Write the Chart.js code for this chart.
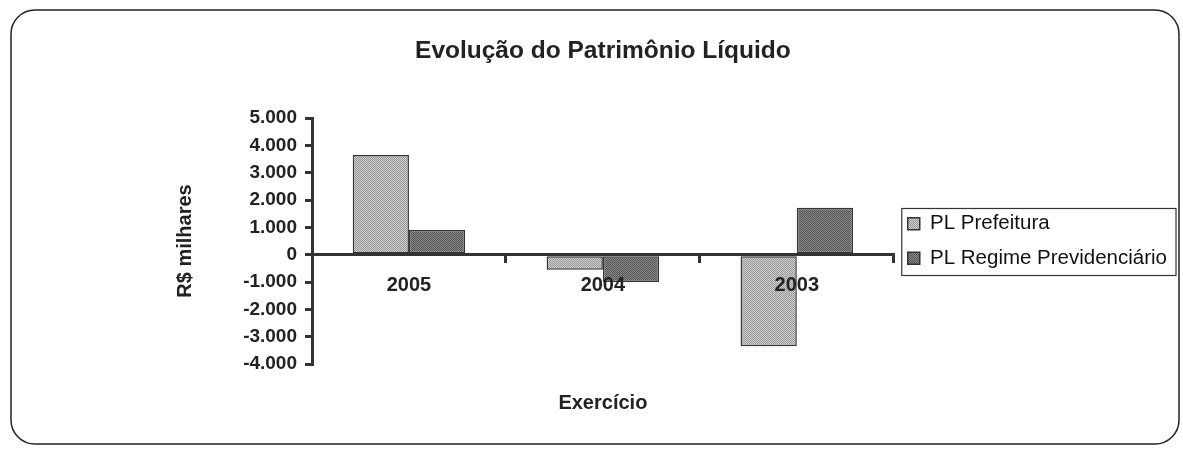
<!DOCTYPE html>
<html><head><meta charset="utf-8">
<script src="https://cdn.jsdelivr.net/npm/chart.js@4.4.0/dist/chart.umd.min.js"></script>
<style>html,body{margin:0;padding:0;background:#fff;}</style>
</head><body>
<canvas id="c" width="1183" height="450"></canvas>
<script>
const categories = ['2005', '2004', '2003'];
const plPrefeitura = [3650, -550, -3350];
const plRegime = [900, -1000, 1720];
const seriesNames = ['PL Prefeitura', 'PL Regime Previdenciário'];
const chartTitle = 'Evolução do Patrimônio Líquido';
const xTitle = 'Exercício';
const yTitle = 'R$ milhares';
const yMin = -4000, yMax = 5000, yStep = 1000;

const FONT = '"Liberation Sans", Arial, sans-serif';

function makePattern(c1, c2) {
  const p = document.createElement('canvas');
  p.width = 2; p.height = 2;
  const g = p.getContext('2d');
  g.fillStyle = c1; g.fillRect(0, 0, 2, 2);
  g.fillStyle = c2; g.fillRect(0, 0, 1, 1); g.fillRect(1, 1, 1, 1);
  return document.getElementById('c').getContext('2d').createPattern(p, 'repeat');
}
const patLight = makePattern('#cfcfcf', '#969696');
const patDark = makePattern('#888888', '#545454');

function fmt(v) {
  const neg = v < 0;
  let s = String(Math.abs(Math.round(v)));
  s = s.replace(/\B(?=(\d{3})+(?!\d))/g, '.');
  return (neg ? '-' : '') + s;
}

const framePlugin = {
  id: 'frame',
  beforeDraw(chart) {
    const ctx = chart.ctx;
    ctx.save();
    ctx.fillStyle = '#fff';
    ctx.fillRect(0, 0, chart.width, chart.height);
    ctx.beginPath();
    ctx.roundRect(11, 10, 1168, 434, 24);
    ctx.lineWidth = 1.5;
    ctx.strokeStyle = '#222';
    ctx.stroke();
    ctx.restore();
  }
};

const textPlugin = {
  id: 'texts',
  afterDraw(chart) {
    const ctx = chart.ctx, ca = chart.chartArea;
    const cx = (ca.left + ca.right) / 2;
    ctx.save();
    ctx.fillStyle = '#222';
    ctx.textAlign = 'center';
    ctx.textBaseline = 'middle';
    ctx.font = 'bold 24.5px ' + FONT;
    ctx.fillText(chartTitle, cx, 51);
    ctx.font = 'bold 20px ' + FONT;
    ctx.fillText(xTitle, cx, 403);
    ctx.restore();
  }
};

const legendBoxPlugin = {
  id: 'legendBox',
  afterDraw(chart) {
    const lg = chart.legend;
    if (!lg || !lg.legendHitBoxes || !lg.legendHitBoxes.length) return;
    const hb = lg.legendHitBoxes;
    let l = Infinity, t = Infinity, r = -Infinity, b = -Infinity;
    hb.forEach(h => {
      l = Math.min(l, h.left); t = Math.min(t, h.top);
      r = Math.max(r, h.left + h.width); b = Math.max(b, h.top + h.height);
    });
    const ctx = chart.ctx;
    ctx.save();
    ctx.strokeStyle = '#333';
    ctx.lineWidth = 1.2;
    ctx.strokeRect(l - 6, t - 5, (r + 9) - (l - 6), (b + 7) - (t - 5));
    ctx.restore();
  }
};

new Chart(document.getElementById('c'), {
  type: 'bar',
  data: {
    labels: categories,
    datasets: [
      { label: seriesNames[0], data: plPrefeitura, backgroundColor: patLight, borderColor: '#333', borderWidth: 1.5, borderSkipped: false },
      { label: seriesNames[1], data: plRegime, backgroundColor: patDark, borderColor: '#333', borderWidth: 1.5, borderSkipped: false }
    ]
  },
  options: {
    responsive: false,
    animation: false,
    devicePixelRatio: 1,
    layout: { padding: { left: 169, right: 6, top: 118, bottom: 86 } },
    datasets: { bar: { categoryPercentage: 0.58, barPercentage: 1.0 } },
    plugins: {
      title: { display: false },
      tooltip: { enabled: false },
      legend: {
        position: 'right',
        maxWidth: 400,
        labels: {
          boxWidth: 12, boxHeight: 12, padding: 14,
          font: { family: FONT, size: 20.5 }, color: '#111'
        }
      }
    },
    scales: {
      x: {
        axis: 'x',
        type: 'category',
        position: { y: 0 },
        offset: true,
        ticks: { z: 1, font: { family: FONT, size: 20, weight: 'bold' }, color: '#222', padding: 12 },
        grid: { display: true, drawOnChartArea: false, offset: true, tickLength: 7, color: '#333', lineWidth: 3 },
        border: { z: 1, display: true, color: '#333', width: 3 }
      },
      y: {
        min: yMin, max: yMax,
        ticks: { stepSize: yStep, callback: v => fmt(v), font: { family: FONT, size: 19, weight: 'bold' }, color: '#222', padding: 8 },
        grid: { display: true, drawOnChartArea: false, tickLength: 7, color: '#333', lineWidth: 3 },
        border: { display: true, color: '#333', width: 3 },
        title: { display: true, text: yTitle, font: { family: FONT, size: 20, weight: 'bold' }, color: '#222', padding: { top: 4, bottom: 4 } },
        afterFit: s => { s.width = 143; }
      }
    }
  },
  plugins: [framePlugin, textPlugin, legendBoxPlugin]
});
</script>
</body></html>
